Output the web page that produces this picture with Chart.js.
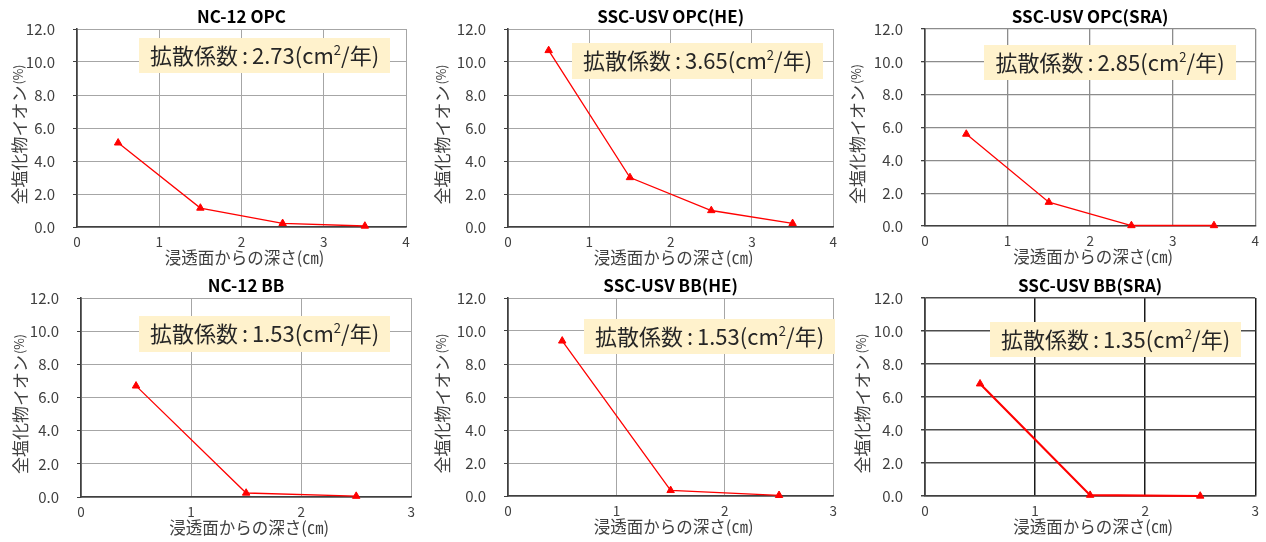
<!DOCTYPE html>
<html>
<head>
<meta charset="utf-8">
<script src="https://cdn.jsdelivr.net/npm/chart.js@4/dist/chart.umd.min.js"></script>
<style>
  html, body { margin: 0; padding: 0; background: #ffffff; }
  #wrap { position: relative; width: 1266px; height: 542px; overflow: hidden; background: #ffffff; }
  #wrap canvas { position: absolute; }
</style>
</head>
<body>
<div id="wrap"></div>
<script>
// Depth from the exposed surface (cm)
const depthOPC = [0.5, 1.5, 2.5, 3.5];
const depthBB = [0.5, 1.5, 2.5];

// Total chloride ion content (%) at each depth
const chlorideNC12OPC = [5.1, 1.15, 0.22, 0.06];
const chlorideSSCOPC_HE = [10.7, 3.0, 1.0, 0.22];
const chlorideSSCOPC_SRA = [5.6, 1.45, 0.03, 0.03];
const chlorideNC12BB = [6.7, 0.24, 0.05];
const chlorideSSCBB_HE = [9.4, 0.34, 0.04];
const chlorideSSCBB_SRA = [6.8, 0.05, 0.0];

// Panel names and apparent diffusion coefficients (cm²/年)
const panelTitles = ['NC-12 OPC', 'SSC-USV OPC(HE)', 'SSC-USV OPC(SRA)', 'NC-12 BB', 'SSC-USV BB(HE)', 'SSC-USV BB(SRA)'];
const diffusionCoef = [2.73, 3.65, 2.85, 1.53, 1.53, 1.35];

// Axis ticks
const yTickValues = [0, 2, 4, 6, 8, 10, 12];
const yTickLabels = ['0.0', '2.0', '4.0', '6.0', '8.0', '10.0', '12.0'];
const xTicksOPC = [0, 1, 2, 3, 4];
const xTicksBB = [0, 1, 2, 3];

// Axis titles
const yAxisTitle = '全塩化物イオン';
const yAxisUnit = '(%)';
const xAxisTitle = '浸透面からの深さ(㎝)';
const coefLabel = '拡散係数';

const seriesList = [
  { x: depthOPC, y: chlorideNC12OPC, xTicks: xTicksOPC },
  { x: depthOPC, y: chlorideSSCOPC_HE, xTicks: xTicksOPC },
  { x: depthOPC, y: chlorideSSCOPC_SRA, xTicks: xTicksOPC },
  { x: depthBB, y: chlorideNC12BB, xTicks: xTicksBB },
  { x: depthBB, y: chlorideSSCBB_HE, xTicks: xTicksBB },
  { x: depthBB, y: chlorideSSCBB_SRA, xTicks: xTicksBB }
];

// Page layout of each panel (page pixels)
const layouts = [
  { canvas: [0, 0, 422, 271],   area: [77, 29, 406, 227],   box: [139, 38, 390, 73],   yTitleX: 19.5, grid: '#a6a6a6', vgrid: '#a6a6a6', gw: 1, lw: 1.3 },
  { canvas: [422, 0, 422, 271], area: [508, 29, 835, 227],  box: [572, 43, 823, 79],   yTitleX: 442.5, grid: '#a6a6a6', vgrid: '#a6a6a6', gw: 1, lw: 1.3 },
  { canvas: [844, 0, 422, 271], area: [925, 29, 1256, 226], box: [984, 45, 1236, 80],  yTitleX: 857.5, grid: '#8c8c8c', vgrid: '#8c8c8c', gw: 1.3, lw: 1.3 },
  { canvas: [0, 271, 422, 271], area: [81, 296, 415, 497],  box: [139, 316, 390, 352], yTitleX: 20.5, grid: '#a6a6a6', vgrid: '#a6a6a6', gw: 1, lw: 1.3 },
  { canvas: [422, 271, 422, 271], area: [508, 297, 840, 496], box: [584, 319, 835, 354], yTitleX: 442.5, grid: '#a6a6a6', vgrid: '#a6a6a6', gw: 1, lw: 1.3 },
  { canvas: [844, 271, 422, 271], area: [925, 297, 1256, 496], box: [990, 322, 1241, 357], yTitleX: 862.5, grid: '#4d4d4d', vgrid: '#1a1a1a', gw: 1.5, lw: 2.2 }
];

const Y_W = 60;  // y-axis band width
const X_H = 24;  // x-axis band height
const CJK = '"Noto Sans CJK JP", "Noto Sans", sans-serif';
const TICKF = '"Noto Sans CJK JP", "Liberation Sans", sans-serif';
const TEXT = '#404040';

const wrap = document.getElementById('wrap');

seriesList.forEach((s, i) => {
  const L = layouts[i];
  const [cx, cy, cw, ch] = L.canvas;
  const cv = document.createElement('canvas');
  cv.width = cw; cv.height = ch;
  cv.style.left = cx + 'px'; cv.style.top = cy + 'px';
  cv.style.width = cw + 'px'; cv.style.height = ch + 'px';
  wrap.appendChild(cv);

  const decor = {
    id: 'decor' + i,
    beforeDatasetsDraw(chart) {
      // coefficient label box
      const c = chart.ctx;
      const [bl, bt, br, bb] = L.box;
      const x0 = bl - cx, y0 = bt - cy, w = br - bl, h = bb - bt;
      c.save();
      c.fillStyle = '#fff2cc';
      c.fillRect(x0, y0, w, h);
      const main = '22px ' + CJK;
      const sup = '13px ' + CJK;
      const parts = [
        { t: coefLabel, f: main, dy: 0 },
        { t: ':', f: main, dy: 0, pad: 4 },
        { t: diffusionCoef[i].toFixed(2) + '(cm', f: main, dy: 0 },
        { t: '2', f: sup, dy: -9 },
        { t: '/年)', f: main, dy: 0 }
      ];
      let total = 0;
      parts.forEach(p => { c.font = p.f; p.w = c.measureText(p.t).width + 2 * (p.pad || 0); total += p.w; });
      let x = x0 + (w - total) / 2;
      const base = y0 + h / 2 + 8;
      c.fillStyle = '#262626';
      c.textBaseline = 'alphabetic';
      c.textAlign = 'left';
      parts.forEach(p => { c.font = p.f; c.fillText(p.t, x + (p.pad || 0), base + p.dy); x += p.w; });
      c.restore();
    },
    afterDraw(chart) {
      const c = chart.ctx;
      const a = chart.chartArea;
      c.save();
      // panel title
      c.fillStyle = '#000000';
      c.font = 'bold 17px ' + CJK;
      c.textAlign = 'center';
      c.textBaseline = 'middle';
      c.fillText(panelTitles[i], (a.left + a.right) / 2, a.top - 12.5);
      // x-axis title
      c.fillStyle = TEXT;
      c.font = '16.5px ' + CJK;
      c.fillText(xAxisTitle, (a.left + a.right) / 2 + 3, a.bottom + 31);
      // y-axis title, rotated
      const mainF = '17px ' + CJK, unitF = '12.5px ' + CJK;
      c.font = mainF; const w1 = c.measureText(yAxisTitle).width;
      c.font = unitF; const w2 = c.measureText(yAxisUnit).width;
      c.translate(L.yTitleX - cx, (a.top + a.bottom) / 2 + 7);
      c.rotate(-Math.PI / 2);
      c.textAlign = 'left';
      c.textBaseline = 'middle';
      c.font = mainF; c.fillText(yAxisTitle, -(w1 + w2) / 2, 0);
      c.font = unitF; c.fillText(yAxisUnit, -(w1 + w2) / 2 + w1 + 1, -1);
      c.restore();
    }
  };

  const [al, at, ar, ab] = L.area;
  new Chart(cv, {
    type: 'scatter',
    data: {
      datasets: [{
        data: s.x.map((xv, k) => ({ x: xv, y: s.y[k] })),
        showLine: true,
        borderColor: '#ff0000',
        backgroundColor: '#ff0000',
        borderWidth: L.lw,
        pointStyle: 'triangle',
        pointRadius: 4.3,
        pointHoverRadius: 4.3,
        pointBorderWidth: 1,
        clip: false
      }]
    },
    options: {
      responsive: false,
      animation: false,
      events: [],
      layout: {
        padding: {
          left: al - cx - Y_W,
          top: at - cy,
          right: cx + cw - ar,
          bottom: cy + ch - ab - X_H
        }
      },
      plugins: { legend: { display: false }, tooltip: { enabled: false }, title: { display: false } },
      scales: {
        x: {
          type: 'linear',
          min: s.xTicks[0],
          max: s.xTicks[s.xTicks.length - 1],
          afterBuildTicks: sc => { sc.ticks = s.xTicks.map(v => ({ value: v })); },
          afterFit: sc => { sc.height = X_H; },
          ticks: { color: TEXT, font: { family: TICKF, size: 13.5 }, padding: 7, maxRotation: 0, autoSkip: false },
          grid: { color: L.vgrid, lineWidth: L.gw, drawTicks: false },
          border: { color: TEXT, width: 1.6 }
        },
        y: {
          min: 0,
          max: 12,
          afterBuildTicks: sc => { sc.ticks = yTickValues.map(v => ({ value: v })); },
          afterFit: sc => { sc.width = Y_W; },
          ticks: {
            color: TEXT,
            font: { family: TICKF, size: 15 },
            padding: 18,
            callback: v => yTickLabels[yTickValues.indexOf(v)]
          },
          grid: { color: L.grid, lineWidth: L.gw, tickLength: 4, tickColor: TEXT },
          border: { color: TEXT, width: 1.6 }
        }
      }
    },
    plugins: [decor]
  });
});
</script>
</body>
</html>
